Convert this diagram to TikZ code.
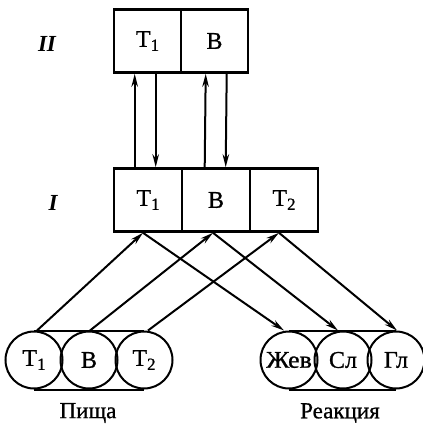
\documentclass[tikz,border=0pt]{standalone}
\usepackage{fontspec}
\setmainfont{Liberation Serif}
\newfontfamily\medfont[FakeBold=0.9]{Liberation Serif}
\newcommand{\lowidx}[1]{\raisebox{-4pt}{\fontsize{17}{17}\selectfont #1}}
\usetikzlibrary{arrows.meta,calc}
\begin{document}
\begin{tikzpicture}[x=1pt,y=-1pt,
  cell/.style={draw,line width=2.6pt,minimum height=63pt,inner sep=0pt,font=\medfont\fontsize{24}{26}\selectfont},
  ball/.style={draw,line width=2pt,circle,minimum size=57pt,inner sep=0pt,font=\medfont\fontsize{24}{26}\selectfont},
  conn/.style={line width=2pt,-{Stealth[length=13pt,width=6.5pt]}},
  belt/.style={line width=2pt},
  lvl/.style={font=\fontsize{23}{25}\selectfont\itshape\bfseries},
  captext/.style={font=\medfont\fontsize{23}{25}\selectfont}]
\useasboundingbox (0,0) rectangle (422,427);
% level II
\node[cell,minimum width=67pt] (a1) at (147.5,41) {T\lowidx{1}};
\node[cell,minimum width=67pt] (a2) at (214.5,41) {B};
% level I
\node[cell,minimum width=68pt] (b1) at (148,200) {T\lowidx{1}};
\node[cell,minimum width=68pt] (b2) at (216,200) {B};
\node[cell,minimum width=68pt] (b3) at (284,200) {T\lowidx{2}};
\node[lvl] (l2) at (47,44) {II};
\node[lvl] (l1) at (53,203) {I};
% food circles
\node[ball] (f1) at (34,360) {T\lowidx{1}};
\node[ball] (f2) at (89,360) {B};
\node[ball] (f3) at (144,360) {T\lowidx{2}};
% reaction circles
\node[ball] (r1) at (289,360) {\scalebox{1.08}[1]{Жев}};
\node[ball] (r2) at (343,360) {Сл};
\node[ball] (r3) at (396,360) {Гл};
\draw[belt] (f1.north) -- (f3.north) (f1.south) -- (f3.south);
\draw[belt] (r1.north) -- (r3.north) (r1.south) -- (r3.south);
\node[captext] (pf) at (88,413) {Пища};
\node[captext] (pr) at (340,413) {Реакция};
% arrows between levels
\draw[conn] ($(b1.north west)+(22,0)$) -- ($(a1.south west)+(22,0)$);
\draw[conn] ($(a1.south west)+(43,0)$) -- ($(b1.north west)+(43,0)$);
\draw[conn] ($(b2.north west)+(24,0)$) -- ($(a2.south west)+(26,0)$);
\draw[conn] ($(a2.south west)+(47,0)$) -- ($(b2.north west)+(45,0)$);
% food to level I
\draw[conn] ($(f1.north)+(3,0)$) -- ($(b1.south)+(-5,0)$);
\draw[conn] ($(f2.north)+(1,0)$) -- ($(b2.south)+(-3,0)$);
\draw[conn] ($(f3.north)+(4,0)$) -- ($(b3.south)+(-5,0)$);
% level I to reactions
\draw[conn] ($(b1.south)+(-5,0)$) -- ($(r1.north)+(-5,0)$);
\draw[conn] ($(b2.south)+(-3,0)$) -- ($(r2.north)+(-5,0)$);
\draw[conn] ($(b3.south)+(-5,0)$) -- ($(r3.north)+(1,0)$);
\end{tikzpicture}
\end{document}
